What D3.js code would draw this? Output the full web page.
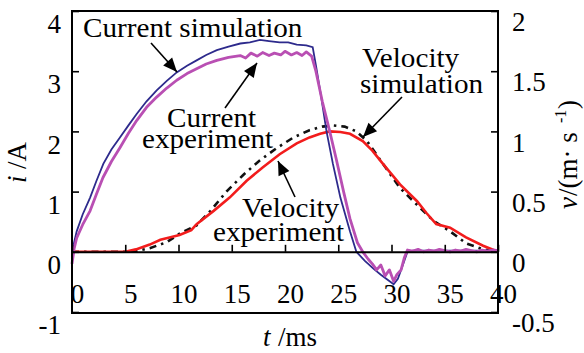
<html>
  <head>
    <meta charset="utf-8" />
    <script src="https://d3js.org/d3.v7.min.js"></script>
  </head>
  <body style="margin:0; background:#fff">
    <div class="container"></div>
  </body>
</html>

<script>
  // time axis (ms)
  const xTicks = [0, 5, 10, 15, 20, 25, 30, 35, 40];
  const iTicks = [-1, 0, 1, 2, 3, 4];
  const vTicks = [-0.5, 0, 0.5, 1, 1.5, 2];

  // current simulation (A)
  const simT = [0, 0.44, 1.0, 1.7, 2.3, 2.94, 3.7, 4.5, 5.3, 6.07, 7.0, 7.95, 8.9, 9.83, 10.8, 11.7, 12.6, 13.6, 14.7, 15.8, 16.7, 17.65, 18.5, 19.5, 20.3, 21.1, 22.0, 22.6, 22.9, 23.4, 23.9, 24.5, 25.2, 26.1, 26.7, 27.5, 28.3, 29.0, 29.6, 30.2, 30.6, 31.0, 31.5, 32, 35, 40];
  const simI = [0, 0.34, 0.62, 0.9, 1.18, 1.46, 1.7, 1.9, 2.1, 2.29, 2.5, 2.68, 2.84, 2.98, 3.09, 3.18, 3.27, 3.35, 3.41, 3.46, 3.48, 3.52, 3.5, 3.48, 3.48, 3.44, 3.43, 3.4, 3.1, 2.57, 2.0, 1.46, 0.9, 0.34, 0.0, -0.15, -0.28, -0.38, -0.46, -0.54, -0.45, -0.25, 0.0, 0.02, 0.02, 0.02];

  // current experiment (A)
  const expT = [0, 0.2, 0.44, 1.0, 1.7, 2.3, 2.9, 3.7, 4.5, 5.3, 6.07, 7.0, 7.95, 8.9, 9.83, 10.8, 11.7, 12.6, 13.6, 14.7, 15.8, 16.3, 16.8, 17.4, 17.9, 18.5, 19.0, 19.6, 20.0, 20.6, 21.1, 21.6, 22.0, 22.5, 22.9, 23.5, 24.2, 24.8, 25.5, 26.1, 26.8, 27.3, 27.8, 28.2, 28.6, 29.0, 29.4, 29.8, 30.2, 30.5, 30.9, 31.2, 31.5, 32.0, 32.5, 33.0, 33.5, 34.0, 34.5, 35.0, 35.5, 36.0, 36.5, 37.0, 37.5, 38.0, 38.5, 39.0, 39.5, 40];
  const expI = [-0.2, 0.05, 0.23, 0.45, 0.68, 0.96, 1.23, 1.5, 1.73, 1.97, 2.18, 2.4, 2.57, 2.72, 2.85, 2.96, 3.04, 3.12, 3.18, 3.23, 3.26, 3.22, 3.3, 3.25, 3.31, 3.26, 3.3, 3.27, 3.33, 3.27, 3.31, 3.26, 3.32, 3.25, 3.0, 2.5, 2.0, 1.55, 1.0, 0.55, 0.15, 0.0, -0.12, -0.2, -0.3, -0.22, -0.4, -0.3, -0.49, -0.38, -0.3, -0.1, 0.03, 0.01, 0.04, 0.0, 0.03, 0.01, 0.04, 0.02, 0.0, 0.03, 0.01, 0.04, 0.02, 0.0, 0.03, 0.01, 0.03, 0.02];

  // velocity simulation (m/s)
  const vSimT = [0, 5, 6, 7.3, 8.9, 10.1, 11.7, 13, 14.5, 16.1, 17.65, 19.2, 20.8, 22.3, 23.5, 24.5, 25.6, 26.7, 27.7, 29.2, 30.8, 32.4, 33.9, 35.5, 37, 38.6, 40];
  const vSimV = [0, 0, 0.005, 0.03, 0.08, 0.15, 0.22, 0.34, 0.5, 0.64, 0.76, 0.86, 0.95, 1.01, 1.04, 1.05, 1.04, 1.0, 0.92, 0.73, 0.53, 0.39, 0.26, 0.17, 0.07, 0.02, 0];

  // velocity experiment (m/s)
  const vExpT = [0, 5, 6, 7.3, 8.3, 10.1, 11.2, 11.7, 13.3, 14.8, 16.4, 17.9, 19.5, 21.1, 22.3, 23.3, 24.2, 25.2, 26.1, 27.3, 28.2, 29.2, 30.8, 32.4, 33.3, 34.2, 35.5, 37, 38.6, 40];
  const vExpV = [0, 0, 0.02, 0.06, 0.1, 0.14, 0.18, 0.23, 0.34, 0.45, 0.59, 0.7, 0.81, 0.9, 0.95, 0.98, 1.0, 0.995, 0.98, 0.92, 0.84, 0.73, 0.56, 0.42, 0.32, 0.23, 0.2, 0.12, 0.05, 0];

  const fontSize = 27;
  const serif = '"Liberation Serif"';

  const x = d3.scaleLinear([0, 40], [72, 498]);
  const yI = d3.scaleLinear([-1, 4], [312, 11]);
  const yV = d3.scaleLinear([-0.5, 2], [312, 11]);

  const svg = d3.select(".container").append("svg").attr("width", 584).attr("height", 353);

  const lineOf = (ts, vs, y) =>
    d3.line().x((d, k) => x(ts[k])).y((d) => y(d))(vs);

  svg.append("path")
    .attr("d", lineOf(vSimT, vSimV, yV))
    .attr("fill", "none")
    .attr("stroke", "#111")
    .attr("stroke-width", 2.6)
    .attr("stroke-dasharray", "7,5,2.5,5");

  svg.append("path")
    .attr("d", lineOf(vExpT, vExpV, yV))
    .attr("fill", "none")
    .attr("stroke", "#f21c1c")
    .attr("stroke-width", 2.6);

  svg.append("path")
    .attr("d", lineOf(simT, simI, yI))
    .attr("fill", "none")
    .attr("stroke", "#2d2a8c")
    .attr("stroke-width", 1.8);

  svg.append("path")
    .attr("d", lineOf(expT, expI, yI))
    .attr("fill", "none")
    .attr("stroke", "#b94fb3")
    .attr("stroke-width", 2.8)
    .attr("stroke-linejoin", "round");

  const fmt = (d) => String(d);

  // zero line with ticks pointing up
  const xAxis = svg.append("g")
    .attr("transform", `translate(0,${yI(0)})`)
    .call(d3.axisBottom(x).tickValues(xTicks).tickFormat(fmt).tickSizeInner(-7).tickSizeOuter(0));
  xAxis.selectAll("text").attr("y", 51).attr("dy", 0).attr("x", 5);

  const leftAxis = svg.append("g")
    .attr("transform", `translate(${x(0)},0)`)
    .call(d3.axisLeft(yI).tickValues(iTicks).tickFormat(fmt).tickSizeInner(-7).tickSizeOuter(0).tickPadding(11));
  leftAxis.selectAll("text").attr("y", 13);
  leftAxis.select(".domain").remove();

  const rightAxis = svg.append("g")
    .attr("transform", `translate(${x(40)},0)`)
    .call(d3.axisRight(yV).tickValues(vTicks).tickFormat(fmt).tickSizeInner(-7).tickSizeOuter(0).tickPadding(14));
  rightAxis.selectAll("text").attr("y", 11);
  rightAxis.select(".domain").remove();

  svg.selectAll(".tick line").attr("stroke", "#000").attr("stroke-width", 1.6);
  svg.selectAll(".domain").attr("stroke", "#000").attr("stroke-width", 2);
  svg.selectAll(".tick text").style("font-family", serif).style("font-size", fontSize + "px").attr("fill", "#000");

  // frame
  svg.append("rect")
    .attr("x", x(0))
    .attr("y", yI(4))
    .attr("width", x(40) - x(0))
    .attr("height", yI(-1) - yI(4) + 1)
    .attr("fill", "none")
    .attr("stroke", "#000")
    .attr("stroke-width", 2);

  // plain text helper, one element per run, no tspans
  function put(parent, str, tx, ty, opts = {}) {
    return parent.append("text")
      .attr("x", tx)
      .attr("y", ty)
      .style("font-family", serif)
      .style("font-size", (opts.size || fontSize) + "px")
      .style("font-style", opts.italic ? "italic" : "normal")
      .attr("fill", "#000")
      .text(str);
  }

  // axis titles (rotated groups)
  const gi = svg.append("g").attr("transform", "translate(26,161) rotate(-90)");
  put(gi, "i", -22, 0, { italic: true });
  put(gi, "/A", -8, 0);

  const gv = svg.append("g").attr("transform", "translate(577,153) rotate(-90)");
  put(gv, "v", -56, 0, { italic: true });
  put(gv, "/(m\u00b7 s", -43, 0);
  put(gv, "-1", 30, -11, { size: 16 });
  put(gv, ")", 44, 0);

  put(svg, "t", 263, 346, { italic: true });
  put(svg, "/ms", 278, 346);

  // annotations: [text, left x, baseline y]
  const notes = [
    ["Current simulation", 83, 37],
    ["Current", 167, 127],
    ["experiment", 142, 148],
    ["Velocity", 362, 67],
    ["simulation", 360, 93],
    ["Velocity", 242, 217],
    ["experiment", 213, 241],
  ];
  svg.append("g")
    .selectAll("text")
    .data(notes)
    .join("text")
    .attr("transform", (d) => `translate(${d[1]},${d[2]}) scale(1.08,1)`)
    .style("font-family", serif)
    .style("font-size", fontSize + "px")
    .attr("fill", "#000")
    .text((d) => d[0]);

  // arrows: tail -> tip, heads drawn as triangles
  const arrows = [
    [151, 43, 177, 72],
    [225, 108, 257, 63],
    [402, 97, 363, 137],
    [295, 197, 278, 161],
  ];
  const ag = svg.append("g");
  ag.selectAll("line")
    .data(arrows)
    .join("line")
    .attr("x1", (d) => d[0])
    .attr("y1", (d) => d[1])
    .attr("x2", (d) => d[2])
    .attr("y2", (d) => d[3])
    .attr("stroke", "#000")
    .attr("stroke-width", 1.6);
  ag.selectAll("path")
    .data(arrows)
    .join("path")
    .attr("fill", "#000")
    .attr("d", (d) => {
      const a = Math.atan2(d[3] - d[1], d[2] - d[0]);
      const len = 14, half = 6;
      const bx = d[2] - len * Math.cos(a), by = d[3] - len * Math.sin(a);
      const px = -Math.sin(a) * half, py = Math.cos(a) * half;
      return `M${d[2]},${d[3]}L${bx + px},${by + py}L${bx - px},${by - py}Z`;
    });
</script>
